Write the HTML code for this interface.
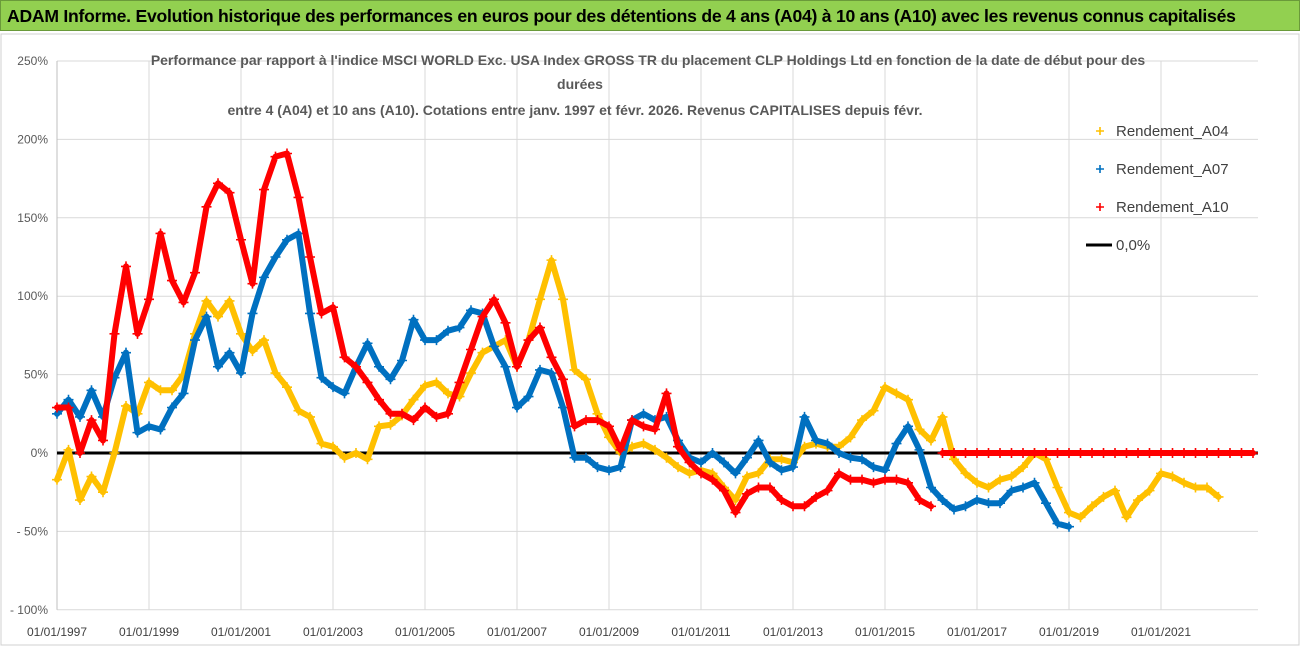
<!DOCTYPE html>
<html><head><meta charset="utf-8">
<style>
html,body{margin:0;padding:0;background:#fff;}
body{width:1302px;height:647px;overflow:hidden;font-family:"Liberation Sans",sans-serif;}
#banner{position:absolute;left:0;top:0;width:1300px;height:31px;background:#92d050;border:1px solid #6a9a3a;font-weight:bold;font-size:17.6px;letter-spacing:-0.25px;line-height:31px;padding-left:6px;box-sizing:border-box;color:#000;white-space:nowrap;overflow:hidden;}
#chart{position:absolute;left:0;top:33px;}
</style></head><body>
<div id="banner">ADAM Informe. Evolution historique des performances en euros pour des détentions de 4 ans (A04) à 10 ans (A10) avec les revenus connus capitalisés</div>
<svg id="chart" width="1302" height="614" viewBox="0 33 1302 614">
<rect x="1" y="34" width="1298" height="611" fill="#fff" stroke="#d0d0d0"/>
<g id="grid"></g>
<g id="yticks"></g>
<g id="xticks"></g>
<line id="zero" stroke="#000" stroke-width="3"/>
<g id="series"></g>
<g font-family="Liberation Sans, sans-serif" font-weight="bold" font-size="14" fill="#595959" text-anchor="middle">
<text x="648" y="65">Performance par rapport à l'indice MSCI WORLD Exc. USA Index GROSS TR  du placement CLP Holdings Ltd en fonction de la date de début pour des</text>
<text x="580" y="89">durées</text>
<text x="575" y="115">entre 4 (A04) et 10 ans (A10).  Cotations entre janv. 1997 et févr. 2026. Revenus CAPITALISES depuis févr.</text>
</g>
<g id="legend" font-family="Liberation Sans, sans-serif" font-size="15" fill="#404040"></g>
</svg>
<script>
const yTicks=[250,200,150,100,50,0,-50,-100];
const yTickLabels=["250%","200%","150%","100%","50%","0%","- 50%","- 100%"];
const xTickYears=[1997,1999,2001,2003,2005,2007,2009,2011,2013,2015,2017,2019,2021];
const xTickLabels=["01/01/1997","01/01/1999","01/01/2001","01/01/2003","01/01/2005","01/01/2007","01/01/2009","01/01/2011","01/01/2013","01/01/2015","01/01/2017","01/01/2019","01/01/2021"];
// quarterly values, %
const a04Start=1997;
const a04=[-17,2,-30,-15,-25,0,30,25,45,40,40,50,76,97,87,97,76,65,72,51,42,27,23,6,4,-3,0,-4,17,18,24,34,43,45,38,36,51,64,68,72,55,72,98,123,98,53,47,25,10,0,4,6,2,-3,-9,-13,-11,-13,-22,-30,-15,-13,-4,-4,-6,4,6,4,4,10,21,27,42,38,34,15,8,23,-4,-13,-19,-22,-17,-15,-9,0,-4,-22,-38,-41,-34,-28,-24,-41,-30,-24,-13,-15,-19,-22,-22,-28];
const a07Start=1997;
const a07=[25,34,23,40,23,48,64,13,17,15,29,38,72,87,55,64,51,89,112,125,136,140,89,48,42,38,55,70,55,47,59,85,72,72,78,80,91,89,68,55,29,36,53,51,29,-3,-3,-9,-11,-9,21,25,21,23,8,-3,-6,0,-6,-13,-3,8,-6,-11,-9,23,8,6,0,-3,-4,-9,-11,6,17,2,-22,-30,-36,-34,-30,-32,-32,-24,-22,-19,-32,-45,-47];
const a10Start=1997;
const a10=[29,29,0,21,8,76,119,76,98,140,110,96,115,157,172,166,136,108,168,189,191,163,125,89,93,61,55,45,34,25,25,21,29,23,25,45,66,87,98,83,55,72,80,61,47,17,21,21,17,2,21,17,15,38,4,-6,-13,-17,-24,-38,-26,-22,-22,-30,-34,-34,-28,-24,-13,-17,-17,-19,-17,-17,-19,-30,-34];
const a10ZeroStart=2016.25;
const a10Zero=[0,0,0,0,0,0,0,0,0,0,0,0,0,0,0,0,0,0,0,0,0,0,0,0,0,0,0,0];
const NS="http://www.w3.org/2000/svg";
const X0=57,X1=1258,Y0=453,PXY=78.4/50,PXYR=46;
function xs(yr){return X0+(yr-1997)*PXYR;}
function ys(v){return Y0-v*PXY;}
function mk(tag,attrs,parent){const e=document.createElementNS(NS,tag);for(const k in attrs)e.setAttribute(k,attrs[k]);parent.appendChild(e);return e;}
const grid=document.getElementById('grid');
yTicks.forEach((t,i)=>{
 const l=mk('line',{x1:X0,x2:X1,y1:ys(t),y2:ys(t),stroke:'#d9d9d9','stroke-width':1},grid);
 
 
 const tx=mk('text',{x:48,y:ys(t)+4,'text-anchor':'end','font-size':12,fill:'#595959','font-family':'Liberation Sans, sans-serif'},document.getElementById('yticks'));
 tx.textContent=yTickLabels[i];
 
 
});
xTickYears.forEach((yr,i)=>{
 const l=mk('line',{x1:xs(yr),x2:xs(yr),y1:ys(250),y2:ys(-100),stroke:'#d9d9d9','stroke-width':1},grid);
 
 
 const tx=mk('text',{x:xs(yr),y:636,'text-anchor':'middle','font-size':12,fill:'#404040','font-family':'Liberation Sans, sans-serif'},document.getElementById('xticks'));
 tx.textContent=xTickLabels[i];
 
 
});
const ax=mk('line',{x1:X0,x2:X0,y1:ys(250),y2:ys(-100),stroke:'#bfbfbf'},grid);


const z=document.getElementById('zero');
z.setAttribute('x1',X0);z.setAttribute('x2',X1);z.setAttribute('y1',ys(0));z.setAttribute('y2',ys(0));
const ser=document.getElementById('series');
function draw(vals,start,color,name){
 const g=mk('g',{},ser);
 
 
 const pts=vals.map((v,i)=>xs(start+i*0.25).toFixed(1)+','+ys(v).toFixed(1)).join(' ');
 const pl=mk('polyline',{points:pts,fill:'none',stroke:color,'stroke-width':6,'stroke-linejoin':'round','stroke-linecap':'round'},g);
 
 
 vals.forEach((v,i)=>{
  const x=xs(start+i*0.25),y=ys(v);
  const p=mk('path',{d:`M${x-5},${y}H${x+5}M${x},${y-5}V${y+5}`,stroke:color,'stroke-width':1.6},g);
  
  
 });
}
draw(a04,a04Start,'#ffc000','series-a04');
draw(a07,a07Start,'#0070c0','series-a07');
draw(a10,a10Start,'#ff0000','series-a10');
draw(a10Zero,a10ZeroStart,'#ff0000','series-a10-zero');
const lg=document.getElementById('legend');
const items=[["Rendement_A04","#ffc000",131],["Rendement_A07","#0070c0",169],["Rendement_A10","#ff0000",207]];
items.forEach(it=>{
 const x=1100,y=it[2];
 const p=mk('path',{d:`M${x-4},${y}H${x+4}M${x},${y-4}V${y+4}`,stroke:it[1],'stroke-width':1.6},lg);
 
 
 const t=mk('text',{x:1116,y:y+5},lg);
 t.textContent=it[0];
 
 
});
const zl=mk('line',{x1:1086,x2:1112,y1:245,y2:245,stroke:'#000','stroke-width':3},lg);


const zt=mk('text',{x:1116,y:250},lg);
zt.textContent="0,0%";


</script>
</body></html>
